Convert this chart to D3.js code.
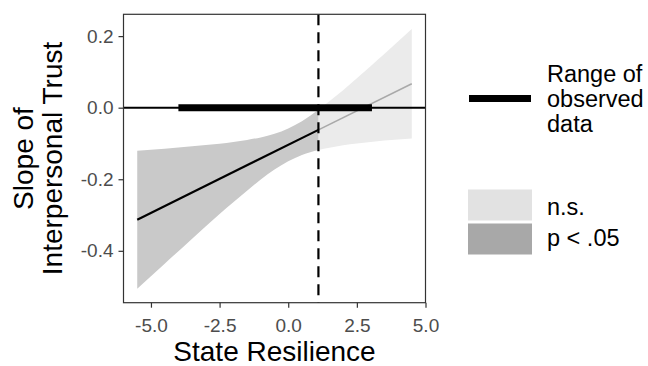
<!DOCTYPE html>
<html><head><meta charset="utf-8">
<script src="https://cdn.jsdelivr.net/npm/d3@7"></script>
<style>html,body{margin:0;padding:0;background:#fff;} svg{display:block;}</style>
</head><body>
<svg id="c" width="648" height="366"></svg>
<script>
// ---- data ----
const xTicks = [-5.0, -2.5, 0.0, 2.5, 5.0];
const yTicks = [-0.4, -0.2, 0.0, 0.2];
const ribbonX = [-5.5, -4.5, -3.5, -2.5, -2.0, -1.5, -1.0, -0.5, 0.0, 0.5, 1.1, 1.5, 2.0, 2.5, 3.0, 3.5, 4.0, 4.5];
const ribbonUpper = [-0.120, -0.115, -0.108, -0.101, -0.096, -0.090, -0.083, -0.073, -0.058, -0.038, -0.006, 0.018, 0.049, 0.082, 0.116, 0.150, 0.185, 0.220];
const ribbonLower = [-0.506, -0.436, -0.366, -0.297, -0.264, -0.232, -0.201, -0.173, -0.150, -0.132, -0.118, -0.112, -0.105, -0.100, -0.096, -0.092, -0.089, -0.086];
const fitX = [-5.5, 1.1, 4.5];
const fitY = [-0.313, -0.062, 0.067];
const jnBoundary = 1.1;            // dashed line: significance boundary
const observedRange = [-4.0, 3.05];
const legendLabels = ["n.s.", "p < .05"];

// ---- layout ----
const svg = d3.select("#c");
const L = 123.5, R = 425.5, T = 14.3, B = 302.7;
const x = d3.scaleLinear().domain([-6.0, 5.0]).range([L, R]);
const y = d3.scaleLinear().domain([-0.545, 0.261]).range([B, T]);
const font = "'Liberation Sans', Arial, Helvetica, sans-serif";

const pts = ribbonX.map((v, i) => ({x: v, u: ribbonUpper[i], l: ribbonLower[i]}));
const area = d3.area().x(d => x(d.x)).y0(d => y(d.l)).y1(d => y(d.u)).curve(d3.curveMonotoneX);
const sig = pts.filter(d => d.x <= jnBoundary);
const ns = pts.filter(d => d.x >= jnBoundary);

svg.append("path").attr("d", area(ns)).attr("fill", "#ebebeb");
svg.append("path").attr("d", area(sig)).attr("fill", "#c9c9c9");

const line = d3.line().x(d => x(d[0])).y(d => y(d[1]));
svg.append("path").attr("d", line([[fitX[1], fitY[1]], [fitX[2], fitY[2]]]))
  .attr("stroke", "#a9a9a9").attr("stroke-width", 1.6).attr("fill", "none");
svg.append("path").attr("d", line([[fitX[0], fitY[0]], [fitX[1], fitY[1]]]))
  .attr("stroke", "#000").attr("stroke-width", 2.2).attr("fill", "none");

// zero line
svg.append("line").attr("x1", L).attr("x2", R).attr("y1", y(0)).attr("y2", y(0))
  .attr("stroke", "#000").attr("stroke-width", 2);
// observed range
svg.append("line").attr("x1", x(observedRange[0])).attr("x2", x(observedRange[1]))
  .attr("y1", y(0)).attr("y2", y(0)).attr("stroke", "#000").attr("stroke-width", 7);
// dashed boundary
svg.append("line").attr("x1", x(jnBoundary)).attr("x2", x(jnBoundary)).attr("y1", T).attr("y2", B)
  .attr("stroke", "#000").attr("stroke-width", 2.2).attr("stroke-dasharray", "11,7");

// panel border
svg.append("rect").attr("x", L).attr("y", T).attr("width", R - L).attr("height", B - T)
  .attr("fill", "none").attr("stroke", "#333").attr("stroke-width", 1.2);

// axes
const xa = svg.append("g").attr("transform", `translate(0,${B})`)
  .call(d3.axisBottom(x).tickValues(xTicks).tickFormat(d3.format(".1f")).tickSize(5).tickPadding(6));
const ya = svg.append("g").attr("transform", `translate(${L},0)`)
  .call(d3.axisLeft(y).tickValues(yTicks).tickFormat(d3.format(".1f")).tickSize(5).tickPadding(5));
[xa, ya].forEach(a => {
  a.select(".domain").remove();
  a.selectAll(".tick line").attr("stroke", "#333").attr("stroke-width", 1.2);
  a.selectAll(".tick text").attr("fill", "#4d4d4d").style("font-family", font).style("font-size", "19px");
});
xa.selectAll(".tick text").attr("dy", "0.95em");
ya.selectAll(".tick text").text(d => d3.format(".1f")(d).replace("−", "-"));
xa.selectAll(".tick text").text(d => d3.format(".1f")(d).replace("−", "-"));

// titles
svg.append("text").attr("x", (L + R) / 2).attr("y", 360.5).attr("text-anchor", "middle")
  .style("font-family", font).style("font-size", "28px").attr("fill", "#000").text("State Resilience");
const yt = svg.append("text").attr("transform", `translate(0,${(T + B) / 2}) rotate(-90)`)
  .attr("text-anchor", "middle").style("font-family", font).style("font-size", "28px").attr("fill", "#000");
yt.append("tspan").attr("x", 0).attr("y", 33).text("Slope of");
yt.append("tspan").attr("x", 0).attr("y", 62).text("Interpersonal Trust");

// legend
svg.append("line").attr("x1", 469).attr("x2", 531).attr("y1", 98.5).attr("y2", 98.5)
  .attr("stroke", "#000").attr("stroke-width", 7);
const lt = svg.append("text").style("font-family", font).style("font-size", "23.5px").attr("fill", "#000");
["Range of", "observed", "data"].forEach((s, i) =>
  lt.append("tspan").attr("x", 547).attr("y", 82 + i * 25).text(s));

svg.append("rect").attr("x", 468).attr("y", 189.5).attr("width", 64).attr("height", 31).attr("fill", "#e2e2e2");
svg.append("rect").attr("x", 468).attr("y", 223.5).attr("width", 64).attr("height", 31).attr("fill", "#a8a8a8");
svg.append("text").attr("x", 547).attr("y", 215).style("font-family", font).style("font-size", "23.5px").text(legendLabels[0]);
svg.append("text").attr("x", 547).attr("y", 246).style("font-family", font).style("font-size", "23.5px").text(legendLabels[1]);
</script>
</body></html>
